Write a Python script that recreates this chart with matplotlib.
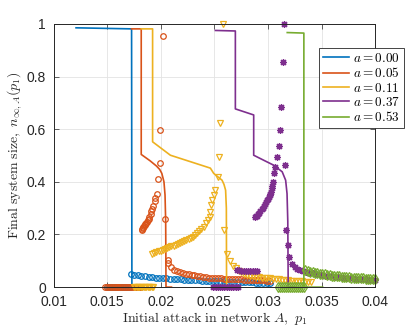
import numpy as np
import matplotlib
matplotlib.use("Agg")
import matplotlib.pyplot as plt

plt.rcParams['mathtext.fontset'] = 'cm'
plt.rcParams['font.family'] = ['Liberation Sans', 'DejaVu Sans']

# MATLAB default colour order
colors = ['#0072BD', '#D95319', '#EDB120', '#7E2F8E', '#77AC30']
labels = ['$a = 0.00$', '$a = 0.05$', '$a = 0.11$', '$a = 0.37$', '$a = 0.53$']

# ---- theory lines ----
line_x = [
    [0.0121, 0.01728, 0.01731, 0.0180],
    [0.01728, 0.01818, 0.01818, 0.0190, 0.0196, 0.0199, 0.0201, 0.0203, 0.0204, 0.02046, 0.02048, 0.02049, 0.0210],
    [0.01818, 0.01924, 0.01924, 0.0209, 0.02463, 0.02494, 0.02572, 0.0259, 0.02605, 0.02612, 0.02614, 0.0268],
    [0.0251, 0.02696, 0.02696, 0.02867, 0.02867, 0.0296, 0.03054, 0.03133, 0.03165, 0.03178, 0.03185, 0.03189, 0.0325],
    [0.0318, 0.03335, 0.03335, 0.0351],
]
line_y = [
    [0.985, 0.981, 0.0, 0.0],
    [0.981, 0.981, 0.504, 0.480, 0.460, 0.447, 0.432, 0.400, 0.350, 0.25, 0.10, 0.0, 0.0],
    [0.981, 0.981, 0.552, 0.501, 0.452, 0.432, 0.406, 0.39, 0.368, 0.30, 0.0, 0.0],
    [0.975, 0.973, 0.677, 0.654, 0.501, 0.482, 0.463, 0.438, 0.406, 0.355, 0.25, 0.0, 0.0],
    [0.967, 0.965, 0.0, 0.0],
]

# ---- simulation markers ----
# a = 0.00
blue_zero = (0.0150, 0.0171, 15)
blue_up_y = [0.050, 0.047, 0.045, 0.043, 0.041, 0.039, 0.038, 0.036, 0.035, 0.034,
             0.033, 0.032, 0.031, 0.030, 0.029, 0.028, 0.028, 0.027, 0.026, 0.026,
             0.025, 0.024, 0.024, 0.023, 0.023, 0.022, 0.022, 0.021, 0.021, 0.020,
             0.020, 0.019, 0.019, 0.018, 0.018, 0.017, 0.017, 0.016, 0.016, 0.015]
blue_up_range = (0.0172, 0.0302)

# a = 0.05
orange_zero = (0.0148, 0.0182, 20)
orange_low_x = [0.01824, 0.01828, 0.01833, 0.01838, 0.01844, 0.01850, 0.01855, 0.01862,
                0.01870, 0.01878, 0.01886, 0.01895, 0.01905, 0.01912, 0.01920, 0.01930,
                0.01942, 0.01951, 0.01961, 0.01974, 0.01989, 0.01996, 0.02020,
                0.02036, 0.02064]
orange_low_y = [0.216, 0.220, 0.224, 0.228, 0.232, 0.236, 0.239, 0.244, 0.249, 0.254,
                0.260, 0.268, 0.279, 0.288, 0.298, 0.310, 0.326, 0.340, 0.355, 0.409,
                0.470, 0.596, 0.954, 0.260, 0.104]
orange_up_y = [0.090, 0.075, 0.066, 0.060, 0.056, 0.053, 0.051, 0.049, 0.047, 0.045,
               0.043, 0.041, 0.040, 0.038, 0.036, 0.035, 0.034, 0.033, 0.033, 0.032,
               0.031, 0.031, 0.030, 0.030, 0.029, 0.029, 0.028, 0.028, 0.027, 0.027,
               0.027, 0.026, 0.026, 0.026, 0.025, 0.025]
orange_up_range = (0.0207, 0.0302)

# a = 0.11
yellow_zero = (0.0175, 0.0193, 15)
yellow_low_x = [0.01918, 0.0194, 0.0196, 0.0198, 0.0200, 0.0202, 0.0204, 0.0206, 0.0208,
                0.0210, 0.0212, 0.0214, 0.0216, 0.0218, 0.0220, 0.0222, 0.0224, 0.0226,
                0.0228, 0.0230, 0.0232, 0.0234, 0.0236, 0.0238, 0.0240, 0.0242, 0.0244,
                0.02455, 0.02463, 0.02472, 0.02482, 0.02495, 0.0251, 0.02534, 0.02547,
                0.02556, 0.02581, 0.02587, 0.02619]
yellow_low_y = [0.127, 0.130, 0.133, 0.136, 0.139, 0.142, 0.146, 0.149, 0.152,
                0.155, 0.158, 0.161, 0.165, 0.168, 0.172, 0.176, 0.179, 0.183,
                0.187, 0.192, 0.198, 0.204, 0.212, 0.221, 0.230, 0.242, 0.256,
                0.268, 0.285, 0.311, 0.330, 0.350, 0.368, 0.419, 0.495,
                0.624, 1.0, 0.216, 0.127]
yellow_up_y = [0.100, 0.082, 0.071, 0.063, 0.056, 0.051, 0.047, 0.044, 0.042, 0.040,
               0.038, 0.036, 0.035, 0.034, 0.033, 0.031, 0.030, 0.029, 0.028, 0.027,
               0.026, 0.025, 0.024, 0.024, 0.023, 0.022, 0.021, 0.021, 0.020]
yellow_up_range = (0.02645, 0.0340)

# a = 0.37
purple_zero = (0.0249, 0.0272, 12)
purple_mid_y = [0.064, 0.064, 0.063, 0.063, 0.062, 0.062, 0.062, 0.061, 0.061, 0.060]
purple_mid_range = (0.0271, 0.0290)
purple_low_x = [0.02883, 0.0289, 0.0290, 0.0291, 0.0292, 0.0293, 0.02946, 0.0295, 0.0296,
                0.0297, 0.0298, 0.02993, 0.0300, 0.0301, 0.0302, 0.03023, 0.0303, 0.03035,
                0.0304, 0.03049, 0.0306, 0.0307, 0.03086, 0.0310, 0.0311, 0.03123,
                0.03139, 0.03148, 0.03157, 0.03173, 0.03189, 0.0320, 0.0322, 0.0325, 0.0327]
purple_low_y = [0.266, 0.270, 0.272, 0.277, 0.282, 0.288, 0.298, 0.302, 0.310,
                0.315, 0.322, 0.330, 0.336, 0.342, 0.350, 0.355, 0.362, 0.375,
                0.385, 0.400, 0.434, 0.457, 0.495, 0.536, 0.596, 0.683,
                0.854, 1.0, 0.463, 0.216, 0.159, 0.114, 0.089, 0.078, 0.070]
purple_up_y = [0.064, 0.060, 0.057, 0.054, 0.052, 0.050, 0.048, 0.046, 0.044, 0.043,
               0.041, 0.040, 0.039, 0.037, 0.036, 0.035, 0.034, 0.033, 0.032, 0.031,
               0.030, 0.029, 0.028, 0.028, 0.027]
purple_up_range = (0.0330, 0.0400)

# a = 0.53
green_zero = (0.0309, 0.0334, 14)
green_up_y = [0.065, 0.062, 0.059, 0.057, 0.055, 0.053, 0.051, 0.049, 0.048, 0.046,
              0.045, 0.044, 0.043, 0.042, 0.041, 0.040, 0.039, 0.038, 0.037, 0.036,
              0.035, 0.035, 0.034, 0.033, 0.033, 0.032, 0.031, 0.031, 0.030, 0.030]
green_up_range = (0.0335, 0.0400)


def zero_branch(rng):
    x = np.linspace(rng[0], rng[1], rng[2])
    return x, np.zeros_like(x)


def band(rng, y):
    return np.linspace(rng[0], rng[1], len(y)), np.array(y)


# matlab-like asterisk: 8 spokes
asterisk = (8, 2, 0)

markers = [
    ('o', 4.0, [zero_branch(blue_zero), band(blue_up_range, blue_up_y)]),
    ('o', 4.0, [zero_branch(orange_zero), (orange_low_x, orange_low_y), band(orange_up_range, orange_up_y)]),
    ('v', 4.2, [zero_branch(yellow_zero), (yellow_low_x, yellow_low_y), band(yellow_up_range, yellow_up_y)]),
    (asterisk, 5.0, [zero_branch(purple_zero), band(purple_mid_range, purple_mid_y),
                     (purple_low_x, purple_low_y), band(purple_up_range, purple_up_y)]),
    ('d', 5.0, [zero_branch(green_zero), band(green_up_range, green_up_y)]),
]

fig = plt.figure(figsize=(4.15, 3.27), dpi=100)
ax = fig.add_axes([0.129, 0.122, 0.775, 0.805])

handles = []
for i in range(5):
    c = colors[i]
    mk, ms, parts = markers[i]
    for px, py in parts:
        ax.plot(px, py, linestyle='none', marker=mk, markersize=ms,
                markerfacecolor='none', markeredgecolor=c, markeredgewidth=0.9,
                clip_on=False)
    h, = ax.plot(line_x[i], line_y[i], color=c, lw=1.2, label=labels[i])
    handles.append(h)

ax.set_xlim(0.01, 0.04)
ax.set_ylim(0, 1)
ax.set_xticks([0.01, 0.015, 0.02, 0.025, 0.03, 0.035, 0.04])
ax.set_xticklabels(['0.01', '0.015', '0.02', '0.025', '0.03', '0.035', '0.04'])
ax.set_yticks([0, 0.2, 0.4, 0.6, 0.8, 1])
ax.set_yticklabels(['0', '0.2', '0.4', '0.6', '0.8', '1'])
ax.tick_params(direction='in', length=3.5, width=0.5, top=True, right=True,
               labelsize=10, colors='#262626')
ax.tick_params(axis='y', pad=5.5)
ax.tick_params(axis='x', pad=5.5)
ax.grid(True, color='#e3e3e3', lw=0.6)
ax.set_axisbelow(True)
for s in ax.spines.values():
    s.set_linewidth(0.7)
    s.set_color('#262626')

ax.set_xlabel(r'$\mathrm{Initial\ attack\ in\ network}\ A,\ p_1$', fontsize=10, labelpad=1,
              color='#262626')
ax.set_ylabel(r'$\mathrm{Final\ system\ size},\ n_{\infty,A}(p_1)$', fontsize=10, labelpad=2,
              color='#262626')

leg = fig.legend(handles=handles, loc='upper left', bbox_to_anchor=(0.769, 0.853),
                 fontsize=9.5, frameon=True, fancybox=False, framealpha=1,
                 edgecolor='#262626', handlelength=2.0, handletextpad=0.3,
                 labelspacing=0.1, borderpad=0.3, borderaxespad=0)
leg.get_frame().set_linewidth(0.6)

fig.savefig('out.png', dpi=100)
